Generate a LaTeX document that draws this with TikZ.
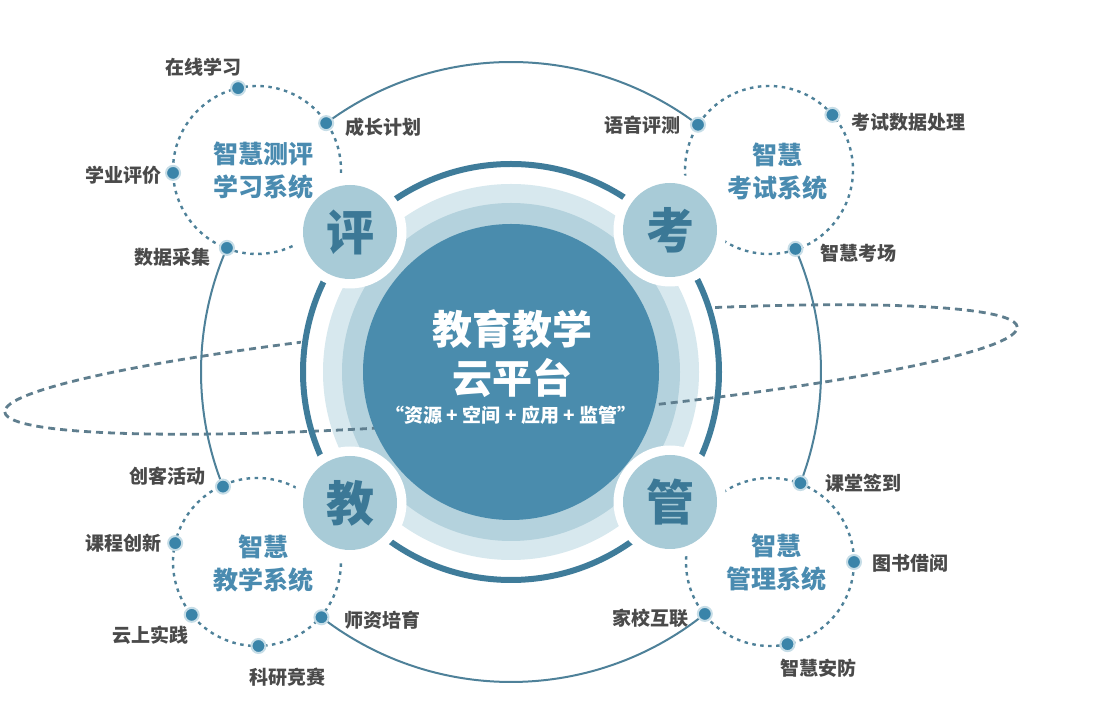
\documentclass[tikz,border=0pt]{standalone}
\usepackage{fontspec}
\setmainfont{Noto Sans CJK SC}
\usetikzlibrary{calc}
\definecolor{darkc}{HTML}{4A8CAD}
\definecolor{midc}{HTML}{B4D2DD}
\definecolor{lightc}{HTML}{D7E8EE}
\definecolor{ringc}{HTML}{3F7C9A}
\definecolor{smallc}{HTML}{A8CBD7}
\definecolor{smalltxt}{HTML}{3B7896}
\definecolor{linec}{HTML}{4E8199}
\definecolor{dotc}{HTML}{3A84A9}
\definecolor{haloc}{HTML}{C6DDE7}
\definecolor{orbitc}{HTML}{5F7E8E}
\definecolor{labelc}{HTML}{4A4A4A}
\definecolor{titlec}{HTML}{4A8BB0}
\begin{document}
\begin{tikzpicture}[x=1pt,y=1pt,
  lbl/.style={font=\fontsize{19}{22}\selectfont\bfseries, text=labelc, inner sep=0},
  systitle/.style={font=\fontsize{25}{33}\selectfont\bfseries, text=titlec, align=center, inner sep=0},
  dotn/.style={circle, fill=dotc, draw=haloc, line width=2pt, minimum size=14pt, inner sep=0},
  dotcirc/.style={draw=linec, line width=2.4pt, dash pattern=on 3.5pt off 4.5pt},
  outerline/.style={draw=linec, line width=2pt},
  orbit/.style={draw=orbitc, line width=2.8pt, dash pattern=on 7pt off 5pt},
  hub/.style={circle, fill=smallc, minimum size=94pt, inner sep=0, font=\fontsize{48}{48}\selectfont\bfseries, text=smalltxt},
  hubmask/.style={circle, fill=white, minimum size=113pt, inner sep=0},
]
\useasboundingbox (0,0) rectangle (1098,728);
\fill[white] (0,0) rectangle (1098,728);
\coordinate (C) at (511,356);
\coordinate (E) at (511,358.5);
\coordinate (TL) at (257,558);
\coordinate (TR) at (769,558);
\coordinate (BL) at (257,166);
\coordinate (BR) at (770,166);

% orbit, back half
\begin{scope}[shift={(E)}, rotate=4.8]
  \draw[orbit] (508,0) arc[start angle=0, end angle=180, x radius=508, y radius=49];
\end{scope}

% platform disc
\fill[white] (C) circle[radius=212];
\fill[lightc] (C) circle[radius=188];
\fill[midc] (C) circle[radius=169];

% orbit, front half
\begin{scope}[shift={(E)}, rotate=4.8]
  \draw[orbit] (-508,0) arc[start angle=180, end angle=360, x radius=508, y radius=49];
\end{scope}

\fill[darkc] (C) circle[radius=148];
\draw[ringc, line width=6pt] (C) circle[radius=208];

\node[font=\fontsize{40}{49}\selectfont\bfseries, text=white, align=center] (title) at (512,374) {教育教学\\云平台};
\node[font=\fontsize{19}{22}\selectfont\bfseries, text=white] (sub) at (511,313) {“资源 + 空间 + 应用 + 监管”};

% connector points on outer circle
\coordinate (pchengzhang) at ($(C)+(126.6:310)$);
\coordinate (pshuju) at ($(C)+(156.4:310)$);
\coordinate (pyuyin) at ($(C)+(52.9:310)$);
\coordinate (pkaochang) at ($(C)+(23.4:310)$);
\coordinate (pchuangke) at ($(C)+(201.7:310)$);
\coordinate (pshizi) at ($(C)+(232.3:310)$);
\coordinate (pjiaxiao) at ($(C)+(308.7:310)$);
\coordinate (pketang) at ($(C)+(339:310)$);

% outer thin circle arcs between systems
\draw[outerline] (pyuyin) arc[start angle=52.9, end angle=126.6, radius=310];
\draw[outerline] (pshuju) arc[start angle=156.4, end angle=201.7, radius=310];
\draw[outerline] (pshizi) arc[start angle=232.3, end angle=308.7, radius=310];
\draw[outerline] (pketang) arc[start angle=339, end angle=383.4, radius=310];

% dotted system circles
\draw[dotcirc] ($(TL)+(-2:84)$) arc[start angle=-2, end angle=300, radius=84];
\draw[dotcirc] ($(TR)+(237:84)$) arc[start angle=237, end angle=545, radius=84];
\draw[dotcirc] ($(BL)+(62:84)$) arc[start angle=62, end angle=361, radius=84];
\draw[dotcirc] ($(BR)+(176:84)$) arc[start angle=176, end angle=484, radius=84];

% hubs
\node[hubmask] (mping) at (350,496) {};
\node[hubmask] (mkao) at (670,498) {};
\node[hubmask] (mjiao) at (350,225) {};
\node[hubmask] (mguan) at (670,226) {};
\node[hub] (ping) at (350,496) {评};
\node[hub] (kao) at (670,498) {考};
\node[hub] (jiao) at (350,225) {教};
\node[hub] (guan) at (670,226) {管};

% system titles
\node[systitle] (t1) at (263,557) {智慧测评\\学习系统};
\node[systitle] (t2) at (777,556) {智慧\\考试系统};
\node[systitle] (t3) at (263,164) {智慧\\教学系统};
\node[systitle] (t4) at (776,165) {智慧\\管理系统};

% dots
\node[dotn] (dzaixian) at ($(TL)+(103:84)$) {};
\node[dotn] (dchengzhang) at (pchengzhang) {};
\node[dotn] (dxueye) at ($(TL)+(182:84)$) {};
\node[dotn] (dshuju) at (pshuju) {};
\node[dotn] (dyuyin) at (pyuyin) {};
\node[dotn] (dkaoshi) at ($(TR)+(41:84)$) {};
\node[dotn] (dkaochang) at (pkaochang) {};
\node[dotn] (dchuangke) at (pchuangke) {};
\node[dotn] (dkecheng) at ($(BL)+(167:84)$) {};
\node[dotn] (dyunshang) at ($(BL)+(219:84)$) {};
\node[dotn] (dkeyan) at ($(BL)+(271:84)$) {};
\node[dotn] (dshizi) at (pshizi) {};
\node[dotn] (dketang) at (pketang) {};
\node[dotn] (dtushu) at ($(BR)+(0:84)$) {};
\node[dotn] (djiaxiao) at (pjiaxiao) {};
\node[dotn] (danfang) at ($(BR)+(282:84)$) {};

% labels
\node[lbl] (lzaixian) at (203,661) {在线学习};
\node[lbl] (lchengzhang) at (383,601) {成长计划};
\node[lbl] (lxueye) at (123,553) {学业评价};
\node[lbl] (lshuju) at (172,471) {数据采集};
\node[lbl] (lyuyin) at (642,603) {语音评测};
\node[lbl] (lkaoshi) at (908,606) {考试数据处理};
\node[lbl] (lkaochang) at (858,475) {智慧考场};
\node[lbl] (lchuangke) at (167,252) {创客活动};
\node[lbl] (lkecheng) at (123,185) {课程创新};
\node[lbl] (lyunshang) at (150,93) {云上实践};
\node[lbl] (lkeyan) at (287,51) {科研竞赛};
\node[lbl] (lshizi) at (382,108) {师资培育};
\node[lbl] (lketang) at (863,245) {课堂签到};
\node[lbl] (ltushu) at (910,165) {图书借阅};
\node[lbl] (ljiaxiao) at (650,110) {家校互联};
\node[lbl] (lanfang) at (818,60) {智慧安防};
\end{tikzpicture}
\end{document}
